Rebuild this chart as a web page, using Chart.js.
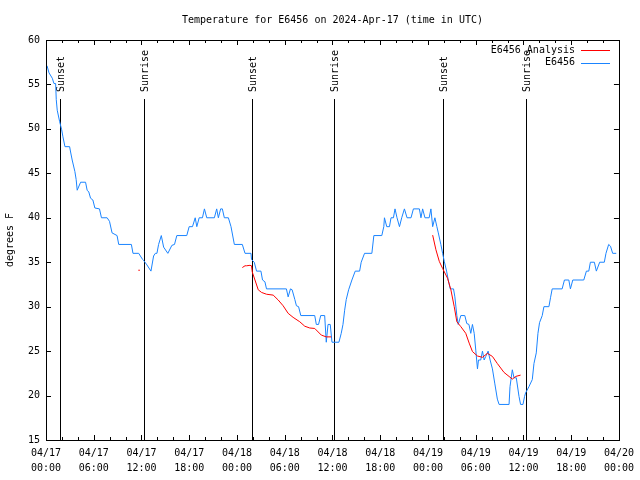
<!DOCTYPE html>
<html>
<head>
<meta charset="utf-8">
<script src="https://cdn.jsdelivr.net/npm/chart.js@4.4.1/dist/chart.umd.min.js"></script>
<style>
  html, body { margin: 0; padding: 0; background: #fff; }
</style>
</head>
<body>
<canvas id="tempChart" width="640" height="480"></canvas>
<script>
const chartTitle = 'Temperature for E6456 on 2024-Apr-17 (time in UTC)';
const yAxisTitle = 'degrees F';
const xTickLabels = [
    ['04/17', '00:00'], ['04/17', '06:00'], ['04/17', '12:00'], ['04/17', '18:00'],
    ['04/18', '00:00'], ['04/18', '06:00'], ['04/18', '12:00'], ['04/18', '18:00'],
    ['04/19', '00:00'], ['04/19', '06:00'], ['04/19', '12:00'], ['04/19', '18:00'],
    ['04/20', '00:00']
];
const yTicks = [15, 20, 25, 30, 35, 40, 45, 50, 55, 60];

// hours since 04/17 00:00 UTC
const sunHours = [1.8, 12.3, 25.84, 36.23, 49.88, 60.27];
const sunLabels = ['Sunset', 'Sunrise', 'Sunset', 'Sunrise', 'Sunset', 'Sunrise'];

const obsHours = [
    0.13, 0.38, 0.79, 1.0, 1.21, 1.29, 1.41, 1.72, 1.97, 2.13,
    2.38, 2.97, 3.09, 3.29, 3.63, 3.79, 3.92, 4.35, 4.97, 5.17,
    5.38, 5.6, 5.89, 6.14, 6.72, 6.97, 7.68, 7.98, 8.3, 8.93,
    9.14, 10.73, 10.93, 11.65, 11.86, 12.15, 12.27, 12.68, 13.19, 13.52,
    13.74, 13.94, 14.15, 14.49, 14.78, 15.31, 15.82, 16.15, 16.44, 17.69,
    17.99, 18.41, 18.75, 18.95, 19.25, 19.66, 19.91, 20.2, 21.16, 21.45,
    21.66, 21.95, 22.16, 22.41, 22.92, 23.25, 23.67, 24.67, 25.01, 25.76,
    25.83, 26.17, 26.46, 27.01, 27.21, 27.51, 27.71, 30.21, 30.43, 30.72,
    30.93, 31.27, 31.47, 31.74, 32.02, 33.77, 33.97, 34.25, 34.52, 35.02,
    35.22, 35.44, 35.72, 35.94, 36.81, 37.1, 37.32, 37.53, 37.73, 38.03,
    38.44, 38.86, 39.41, 39.61, 40.03, 40.95, 41.2, 42.2, 42.45, 42.53,
    42.82, 43.16, 43.36, 43.66, 43.86, 44.11, 44.42, 44.7, 45.04, 45.37,
    45.87, 46.17, 46.92, 47.12, 47.33, 47.62, 48.15, 48.37, 48.59, 48.87,
    49.12, 49.3, 49.62, 49.84, 50.05, 50.34, 50.55, 50.8, 51.21, 51.38,
    51.63, 51.8, 52.13, 52.63, 52.88, 53.15, 53.38, 53.59, 53.81, 54.01,
    54.22, 54.35, 54.63, 54.85, 55.06, 55.26, 55.56, 55.81, 56.1, 56.39,
    56.72, 56.94, 58.19, 58.31, 58.6, 58.81, 59.1, 59.44, 59.64, 59.94,
    60.14, 60.27, 60.69, 61.11, 61.32, 61.61, 61.82, 62.02, 62.36, 62.57,
    63.2, 63.4, 63.61, 64.86, 65.15, 65.7, 65.9, 66.2, 67.58, 67.91,
    68.21, 68.41, 68.91, 69.16, 69.58, 70.16, 70.37, 70.71, 70.94, 71.21,
    71.66
];
const obsTemps = [
    57.1, 56.3, 55.7, 55.1, 55.1, 53.3, 52.1, 50.8, 49.9, 49.1,
    48, 48, 47.4, 46.5, 45.2, 44.3, 43.1, 44, 44, 43.1,
    42.9, 42.2, 42, 41.1, 41, 40, 40, 39.6, 38.3, 38,
    37, 37, 36, 36, 35.7, 35.3, 35.2, 34.7, 34, 35.7,
    36, 36, 37, 38, 36.7, 36, 36.9, 37, 38, 38,
    39, 39, 40, 39, 40, 40, 41, 40, 40, 41,
    40, 41, 41, 40, 40, 39, 37, 37, 36, 36,
    35.3, 35, 34, 34, 33, 32.8, 32, 32, 31.1, 32,
    31.9, 30.8, 30.1, 30, 29, 29, 28, 28, 29, 29,
    26, 28, 28, 26, 26, 27, 28, 29.6, 30.8, 31.9,
    33, 34, 34, 35, 36, 36, 38, 38, 39, 40,
    39, 39, 40, 40, 41, 40, 39, 40, 41, 40,
    40, 41, 41, 40, 41, 40, 40, 41, 39, 40,
    39, 38.3, 37, 36, 35.1, 34, 33, 32, 32, 31.1,
    29, 28, 29, 29, 28.1, 28, 27, 28, 27, 25.1,
    23, 24, 24, 25, 24, 24.4, 25, 24, 23, 21.4,
    19.6, 19, 19, 21, 22.9, 22, 22, 19.9, 19, 19,
    19.9, 20.3, 21, 21.8, 23.6, 24.8, 27, 28.2, 29, 30,
    30, 31, 32, 32, 33, 33, 32, 33, 33, 34,
    34, 35, 35, 34, 35, 35, 36, 37, 36.8, 36,
    36
];

// analysis series, null = gap
const analysisHours = [
    11.6, 11.8, 18,
    24.67, 25.01, 25.21, 25.63, 25.83, 25.92, 26.26, 26.67, 27.09, 27.71, 28.55,
    29.18, 29.8, 30.43, 31.05, 31.89, 32.52, 33.15, 33.77, 34.6, 35.22, 35.85,
    42,
    48.59, 49.0, 49.42, 49.84, 50.46, 50.88, 51.3, 51.63, 52.13, 52.75, 53.18,
    53.59, 54.22, 54.85, 55.47, 56.1, 56.72, 57.56, 58.19, 58.6, 59.02, 59.64
];
const analysisTemps = [
    34.1, 34.1, null,
    34.4, 34.6, 34.6, 34.65, 34.6, 33.9, 33.0, 31.9, 31.6, 31.4, 31.3,
    30.75, 30.1, 29.25, 28.8, 28.3, 27.8, 27.6, 27.55, 26.8, 26.6, 26.6,
    null,
    38.05, 36.4, 35.1, 34.3, 33.2, 31.9, 30.0, 28.3, 27.75, 27.0, 25.9,
    24.95, 24.45, 24.3, 24.75, 24.4, 23.6, 22.6, 22.15, 21.85, 22.15, 22.3
];

const FONT = "'DejaVu Sans Mono', 'Liberation Mono', monospace";

function toPoints(xs, ys) {
    const n = Math.min(xs.length, ys.length);
    const out = [];
    for (let i = 0; i < n; i++) out.push({ x: xs[i], y: ys[i] });
    return out;
}

// gnuplot-like frame: box, inward ticks, sun markers, legend, titles
const gnuplotFrame = {
    id: 'gnuplotFrame',
    beforeDatasetsDraw(chart) {
        const { ctx, chartArea, scales } = chart;
        ctx.save();
        ctx.strokeStyle = '#000';
        ctx.fillStyle = '#000';
        ctx.lineWidth = 1;
        ctx.font = '10px ' + FONT;
        sunHours.forEach((h, i) => {
            const x = Math.round(scales.x.getPixelForValue(h)) + 0.5;
            ctx.beginPath();
            ctx.moveTo(x, 99);
            ctx.lineTo(x, chartArea.bottom);
            ctx.stroke();
            ctx.save();
            ctx.translate(x + 1, 92);
            ctx.rotate(-Math.PI / 2);
            ctx.textAlign = 'left';
            ctx.textBaseline = 'middle';
            ctx.fillText(sunLabels[i], 0, 0);
            ctx.restore();
        });
        ctx.restore();
    },
    afterDatasetsDraw(chart) {
        const { ctx, chartArea, scales } = chart;
        const { left, right, top, bottom } = chartArea;
        ctx.save();
        ctx.strokeStyle = '#000';
        ctx.lineWidth = 1;
        ctx.strokeRect(Math.round(left) + 0.5, Math.round(top) + 0.5,
            Math.round(right - left), Math.round(bottom - top));

        ctx.beginPath();
        for (let h = 0; h <= 72; h += 2) {
            const x = Math.round(scales.x.getPixelForValue(h)) + 0.5;
            const len = h % 6 === 0 ? 5 : 3;
            ctx.moveTo(x, bottom);
            ctx.lineTo(x, bottom - len);
            ctx.moveTo(x, top);
            ctx.lineTo(x, top + len);
        }
        yTicks.forEach(v => {
            const y = Math.round(scales.y.getPixelForValue(v)) + 0.5;
            ctx.moveTo(left, y);
            ctx.lineTo(left + 5, y);
            ctx.moveTo(right, y);
            ctx.lineTo(right - 5, y);
        });
        ctx.stroke();

        ctx.fillStyle = '#000';
        ctx.font = '10px ' + FONT;
        ctx.textBaseline = 'middle';

        // legend
        chart.data.datasets.forEach((ds, i) => {
            const y = 50 + i * 12.5;
            ctx.textAlign = 'right';
            ctx.fillText(ds.label, 575, y);
            ctx.strokeStyle = ds.borderColor;
            ctx.beginPath();
            ctx.moveTo(581, Math.round(y) + 0.5);
            ctx.lineTo(610, Math.round(y) + 0.5);
            ctx.stroke();
        });

        // title
        ctx.textAlign = 'center';
        ctx.fillText(chartTitle, (left + right) / 2, 20);

        // y axis title
        ctx.save();
        ctx.translate(10, (top + bottom) / 2);
        ctx.rotate(-Math.PI / 2);
        ctx.fillText(yAxisTitle, 0, 0);
        ctx.restore();
        ctx.restore();
    }
};

Chart.defaults.font.family = FONT;
Chart.defaults.font.size = 10;
Chart.defaults.color = '#000';

new Chart(document.getElementById('tempChart').getContext('2d'), {
    type: 'line',
    data: {
        datasets: [{
            label: 'E6456 Analysis',
            data: toPoints(analysisHours, analysisTemps),
            borderColor: '#ff0000',
            borderWidth: 1,
            pointRadius: 0,
            tension: 0,
            spanGaps: false
        }, {
            label: 'E6456',
            data: toPoints(obsHours, obsTemps),
            borderColor: '#1a84ff',
            borderWidth: 1,
            pointRadius: 0,
            tension: 0
        }]
    },
    options: {
        responsive: false,
        animation: false,
        devicePixelRatio: 1,
        layout: { padding: { top: 40, right: 19, left: 0, bottom: 0 } },
        plugins: {
            legend: { display: false },
            title: { display: false },
            tooltip: { enabled: false }
        },
        scales: {
            x: {
                type: 'linear',
                min: 0,
                max: 72,
                grid: { display: false, drawTicks: false },
                border: { display: false },
                ticks: {
                    stepSize: 6,
                    autoSkip: false,
                    maxRotation: 0,
                    padding: 6,
                    font: { size: 10, lineHeight: 1.5 },
                    callback: v => xTickLabels[Math.round(v / 6)]
                },
                afterFit: s => { s.height = 40; }
            },
            y: {
                min: 15,
                max: 60,
                grid: { display: false, drawTicks: false },
                border: { display: false },
                ticks: {
                    stepSize: 5,
                    padding: 6,
                    font: { size: 10 }
                },
                afterFit: s => { s.width = 46; }
            }
        }
    },
    plugins: [gnuplotFrame]
});
</script>
</body>
</html>
